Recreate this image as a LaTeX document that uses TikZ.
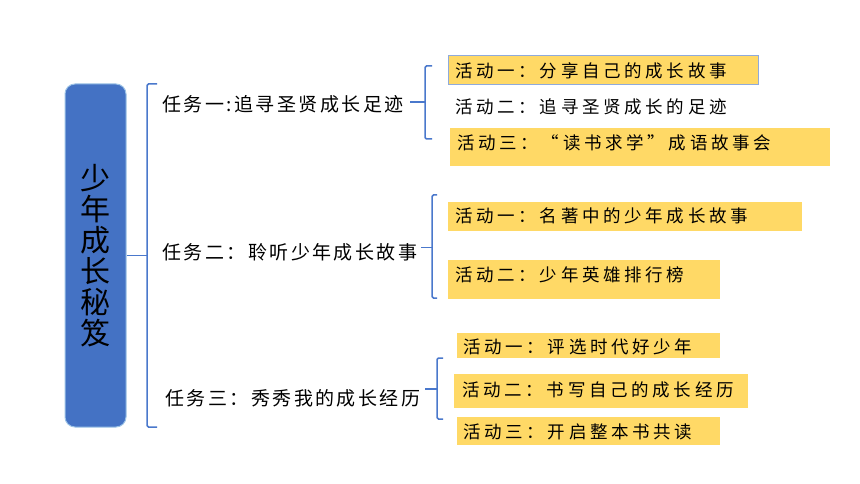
\documentclass[tikz,border=0pt]{standalone}
\usepackage{fontspec}
\usetikzlibrary{calc}
\newfontfamily\kaitask[LetterSpace=13]{Noto Sans CJK SC}
\newfontfamily\kaiact[LetterSpace=21]{Noto Sans CJK SC}
\newfontfamily\hei{Noto Sans CJK SC}
\definecolor{boxblue}{HTML}{4472C4}
\definecolor{boxedge}{HTML}{9DC3E6}
\definecolor{brkblue}{HTML}{4A78CC}
\definecolor{actyellow}{HTML}{FFD966}
\definecolor{actedge}{HTML}{8FAADC}
\begin{document}
\begin{tikzpicture}[x=1pt,y=-1pt,
  titlebox/.style={rectangle, rounded corners=10pt, fill=boxblue, draw=boxedge, line width=1pt,
    minimum width=61pt, minimum height=343pt, align=center, inner sep=0pt,
    font=\hei\fontsize{30}{31}\selectfont},
  brk/.style={draw=brkblue, line width=1.5pt, rounded corners=1.5pt},
  tasktext/.style={anchor=west, inner sep=0pt, font=\kaitask\fontsize{19}{24}\selectfont},
  acttext/.style={anchor=west, inner sep=0pt, font=\kaiact\fontsize{17.5}{22}\selectfont},
  actbox/.style={rectangle, fill=actyellow, inner sep=0pt}
]
\fill[white] (0,0) rectangle (860,484);
\useasboundingbox (0,0) rectangle (860,484);

% title
\node[titlebox] (title) at (95.5,255.5) {少\\年\\成\\长\\秘\\笈};

% main bracket
\coordinate (b0t) at (147,84);
\coordinate (b0b) at (147,427);
\draw[brk] ($(b0t)+(10,0)$) -- (b0t) -- (b0b) -- ++(10,0);
\draw[brk, rounded corners=0pt] (title.east) -- (title.east -| b0t);

% tasks
\node[tasktext] (t1) at (162,104) {任务一:追寻圣贤成长足迹};
\node[tasktext] (t2) at (162,252) {任务二：聆听少年成长故事};
\node[tasktext] (t3) at (165,398) {任务三：秀秀我的成长经历};

% bracket 1
\coordinate (b1t) at (425,66);
\coordinate (b1b) at (425,139);
\coordinate (b1m) at (425,102);
\draw[brk] ($(b1t)+(7,0)$) -- (b1t) -- (b1b) -- ++(7,0);
\draw[brk, rounded corners=0pt] ($(b1m)+(-15,0)$) -- (b1m);

% bracket 2
\coordinate (b2t) at (432,195);
\coordinate (b2b) at (432,298);
\coordinate (b2m) at (432,247.5);
\draw[brk] ($(b2t)+(5,0)$) -- (b2t) -- (b2b) -- ++(5,0);
\draw[brk, rounded corners=0pt] ($(b2m)+(-11,0)$) -- (b2m);

% bracket 3
\coordinate (b3t) at (437,358);
\coordinate (b3b) at (437,419);
\coordinate (b3m) at (437,389);
\draw[brk] ($(b3t)+(6,0)$) -- (b3t) -- (b3b) -- ++(6,0);
\draw[brk, rounded corners=0pt] ($(b3m)+(-12,0)$) -- (b3m);

% activity boxes
\node[actbox, draw=actedge, line width=0.8pt, minimum width=310pt, minimum height=29pt] (b11) at (603,69.5) {};
\node[actbox, minimum width=380pt, minimum height=38pt] (b13) at (640,147) {};
\node[actbox, minimum width=354pt, minimum height=29pt] (b21) at (625,216.5) {};
\node[actbox, minimum width=272pt, minimum height=39pt] (b22) at (584,279.5) {};
\node[actbox, minimum width=263pt, minimum height=25pt] (b31) at (588.5,345.5) {};
\node[actbox, minimum width=294pt, minimum height=34pt] (b32) at (601,391) {};
\node[actbox, minimum width=263pt, minimum height=28pt] (b33) at (588.5,431) {};

% activity texts
\node[acttext] (a11) at (455,71) {活动一：分享自己的成长故事};
\node[acttext] (a12) at (455,107) {活动二：追寻圣贤成长的足迹};
\node[acttext] (a13) at (457,143) {活动三：“读书求学”成语故事会};
\node[acttext] (a21) at (455,216) {活动一：名著中的少年成长故事};
\node[acttext] (a22) at (455,275) {活动二：少年英雄排行榜};
\node[acttext] (a31) at (463,347) {活动一：评选时代好少年};
\node[acttext] (a32) at (462,390) {活动二：书写自己的成长经历};
\node[acttext] (a33) at (463,432) {活动三：开启整本书共读};
\end{tikzpicture}
\end{document}
